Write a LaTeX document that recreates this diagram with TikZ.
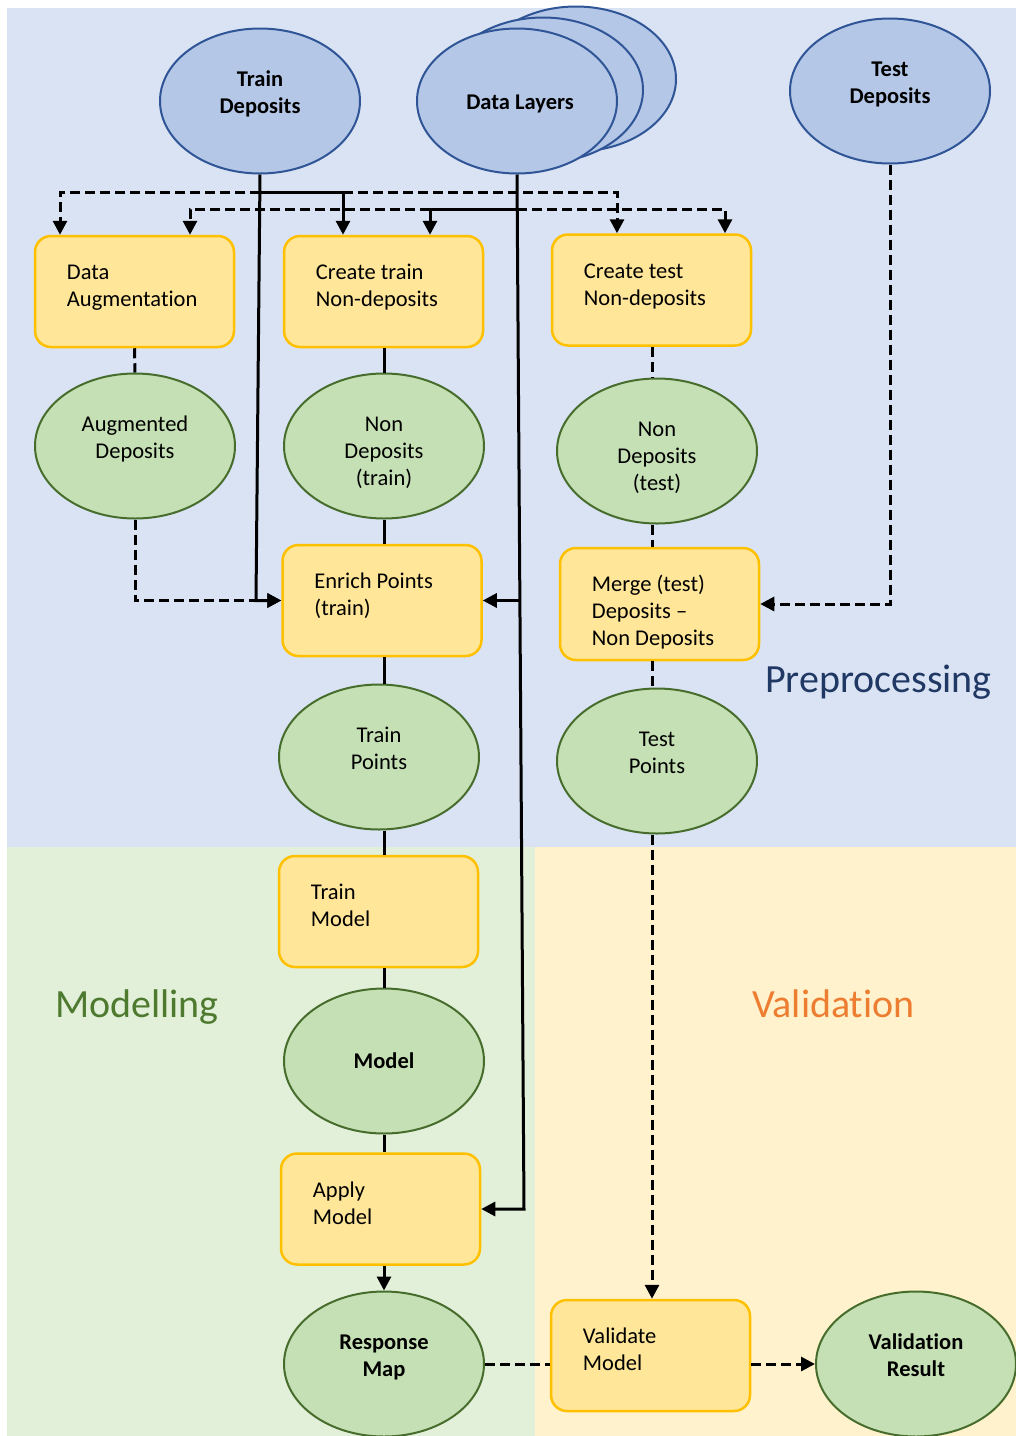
\documentclass[tikz,border=0pt]{standalone}
\usepackage{fontspec}
\setmainfont{Carlito}[Ligatures=NoCommon]
\usetikzlibrary{arrows.meta,shapes.geometric}
\definecolor{bgblue}{HTML}{DAE3F3}
\definecolor{bggreen}{HTML}{E2F0D9}
\definecolor{bgyellow}{HTML}{FFF2CC}
\definecolor{ellblue}{HTML}{B4C7E7}
\definecolor{ellblueline}{HTML}{2F5597}
\definecolor{ellgreen}{HTML}{C5E0B4}
\definecolor{ellgreenline}{HTML}{476D2D}
\definecolor{boxfill}{HTML}{FFE699}
\definecolor{boxline}{HTML}{FFC000}
\definecolor{pretext}{HTML}{203864}
\definecolor{modtext}{HTML}{4E7A2F}
\definecolor{valtext}{HTML}{ED7D31}
\newcommand\dglabelfont{\fontsize{22.5}{27}\selectfont}
\newcommand\dgregionfont{\fontsize{40}{48}\selectfont}
\begin{document}
\begin{tikzpicture}[x=1pt,y=-1pt,
  blueell/.style={ellipse, draw=ellblueline, fill=ellblue, line width=2pt, minimum width=200pt, minimum height=145pt, inner sep=0pt, font=\dglabelfont\bfseries},
  greenell/.style={ellipse, draw=ellgreenline, fill=ellgreen, line width=2pt, minimum width=200pt, minimum height=145pt, inner sep=0pt, font=\dglabelfont\bfseries},
  procbox/.style={rectangle, rounded corners=16pt, draw=boxline, fill=boxfill, line width=2.5pt, minimum width=199pt, minimum height=111pt, inner sep=0pt},
  boxtxt/.style={anchor=north west, align=left, inner sep=0pt, font=\dglabelfont},
  elltxt/.style={anchor=north, align=center, inner sep=0pt, font=\dglabelfont},
  elltxtb/.style={elltxt, font=\dglabelfont\bfseries},
  ln/.style={line width=3pt, black},
  dln/.style={ln, dash pattern=on 10pt off 5pt},
  arrowend/.style={-{Triangle[length=14pt,width=14pt]}},
  regionlabel/.style={anchor=base west, inner sep=0pt, font=\dgregionfont}
]
% backgrounds
\fill[white] (0,0) rectangle (1016,1436);
\fill[bgblue] (7,8) rectangle (1016,847);
\fill[bggreen] (7,847) rectangle (535,1436);
\fill[bgyellow] (535,847) rectangle (1016,1436);
\useasboundingbox (0,0) rectangle (1016,1436);

% helper coordinates
\coordinate (h1) at (0,192);
\coordinate (h2) at (0,209);
\coordinate (colL) at (384,0);
\coordinate (colR) at (652,0);

% top ellipses
\node[blueell] (td) at (260,101) {};
\node[elltxtb] (tdT) at ([yshift=-40pt]td.north) {\strut Train\\Deposits};
\node[blueell] (dl3) at (576,79) {};
\node[blueell] (dl2) at (543,90) {};
\node[blueell] (dl) at (517,101) {};
\node[elltxtb, anchor=center] (dlT) at ([xshift=3pt,yshift=-3pt]dl.center) {Data Layers};
\node[blueell] (tsd) at (890,91) {};
\node[elltxtb] (tsdT) at ([yshift=-40pt]tsd.north) {\strut Test\\Deposits};

% process boxes
\node[procbox] (da) at (134.5,291.5) {};
\node[boxtxt] (daT) at ([xshift=33pt,yshift=-26pt]da.north west) {\strut Data\\Augmentation};
\node[procbox] (ct) at (383.5,291.5) {};
\node[boxtxt] (ctT) at ([xshift=33pt,yshift=-26pt]ct.north west) {\strut Create train\\Non-deposits};
\node[procbox] (cts) at (651.5,290) {};
\node[boxtxt] (ctsT) at ([xshift=33pt,yshift=-26pt]cts.north west) {\strut Create test\\Non-deposits};
\node[procbox] (ep) at (382,600.5) {};
\node[boxtxt] (epT) at ([xshift=33pt,yshift=-26pt]ep.north west) {\strut Enrich Points\\(train)};
\node[procbox, minimum height=112pt] (mg) at (659.5,604) {};
\node[boxtxt] (mgT) at ([xshift=33pt,yshift=-26pt]mg.north west) {\strut Merge (test)\\Deposits --\\Non Deposits};
\node[procbox] (tm) at (378.5,911.5) {};
\node[boxtxt] (tmT) at ([xshift=33pt,yshift=-26pt]tm.north west) {\strut Train\\Model};
\node[procbox] (am) at (380.5,1209) {};
\node[boxtxt] (amT) at ([xshift=33pt,yshift=-26pt]am.north west) {\strut Apply\\Model};
\node[procbox] (vm) at (650.5,1355.5) {};
\node[boxtxt] (vmT) at ([xshift=33pt,yshift=-26pt]vm.north west) {\strut Validate\\Model};

% green ellipses
\node[greenell] (ad) at (135,446) {};
\node[elltxt] (adT) at ([yshift=-40pt]ad.north) {\strut Augmented\\Deposits};
\node[greenell] (ndt) at (384,446) {};
\node[elltxt] (ndtT) at ([yshift=-40pt]ndt.north) {\strut Non\\Deposits\\(train)};
\node[greenell] (nds) at (657,451) {};
\node[elltxt] (ndsT) at ([yshift=-40pt]nds.north) {\strut Non\\Deposits\\(test)};
\node[greenell] (tp) at (379,757) {};
\node[elltxt] (tpT) at ([yshift=-40pt]tp.north) {\strut Train\\Points};
\node[greenell] (tsp) at (657,761) {};
\node[elltxt] (tspT) at ([yshift=-40pt]tsp.north) {\strut Test\\Points};
\node[greenell] (mo) at (384,1061) {Model};
\node[greenell] (rm) at (384,1364) {};
\node[elltxtb] (rmT) at ([yshift=-40pt]rm.north) {\strut Response\\Map};
\node[greenell] (vr) at (916,1364) {};
\node[elltxtb] (vrT) at ([yshift=-40pt]vr.north) {\strut Validation\\Result};

% region labels
\node[regionlabel, text=pretext] (lpre) at (765,692) {Preprocessing};
\node[regionlabel, text=modtext] (lmod) at (55,1017) {Modelling};
\node[regionlabel, text=valtext] (lval) at (752,1017) {Validation};

% arrow targets on top boxes
\coordinate (da1) at ([xshift=-74.5pt]da.north);
\coordinate (da2) at ([xshift=55.5pt]da.north);
\coordinate (ct1) at ([xshift=-40.5pt]ct.north);
\coordinate (ct2) at ([xshift=46.5pt]ct.north);
\coordinate (cts1) at ([xshift=-34.5pt]cts.north);
\coordinate (cts2) at ([xshift=73.5pt]cts.north);

% distribution lines
\draw[dln,arrowend] (td.south |- h1) -- (da1 |- h1) -- (da1);
\draw[dln,arrowend] (ct1 |- h1) -- (cts1 |- h1) -- (cts1);
\draw[ln,arrowend] (td.south |- h1) -- (ct1 |- h1) -- (ct1);
\draw[dln,arrowend] (ct2 |- h2) -- (da2 |- h2) -- (da2);
\draw[dln,arrowend] (dl.south |- h2) -- (cts2 |- h2) -- (cts2);
\draw[ln,arrowend] (dl.south |- h2) -- (ct2 |- h2) -- (ct2);

% long vertical feeds
\draw[ln,arrowend] (td.south) -- ([xshift=-4pt]td.south |- ep.west) -- (ep.west);
\draw[ln,arrowend] (dl.south) -- ([xshift=7pt]dl.south |- am.east) -- (am.east);
\draw[ln,arrowend] ([xshift=3pt]dl.south |- ep.east) -- (ep.east);
\draw[dln,arrowend] (tsd.south) -- (tsd.south |- mg.east) -- (mg.east);
\draw[dln] (da.south) -- (ad.north);
\draw[dln,arrowend] (ad.south) -- (ad.south |- ep.west) -- (ep.west);

% left column
\draw[ln] (colL |- ct.south) -- (colL |- ndt.north);
\draw[ln] (colL |- ndt.south) -- (colL |- ep.north);
\draw[ln] (colL |- ep.south) -- (colL |- tp.north);
\draw[ln] (colL |- tp.south) -- (colL |- tm.north);
\draw[ln] (colL |- tm.south) -- (colL |- mo.north);
\draw[ln] (colL |- mo.south) -- (colL |- am.north);
\draw[ln,arrowend] (colL |- am.south) -- (colL |- rm.north);

% right column
\draw[dln] (colR |- cts.south) -- (colR |- nds.north);
\draw[dln] (colR |- nds.south) -- (colR |- mg.north);
\draw[dln] (colR |- mg.south) -- (colR |- tsp.north);
\draw[dln,arrowend] (colR |- tsp.south) -- (colR |- vm.north);

% bottom row
\draw[dln] (rm.east) -- (rm.east -| vm.west);
\draw[dln,arrowend] (vm.east |- vr.west) -- (vr.west);
\end{tikzpicture}
\end{document}
